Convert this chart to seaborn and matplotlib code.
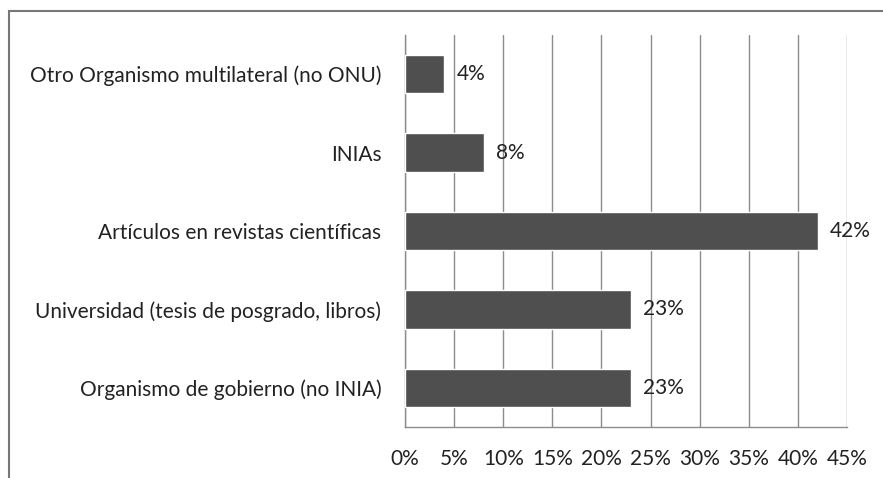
import numpy as np
import pandas as pd
import matplotlib.pyplot as plt
import seaborn as sns
from matplotlib.patches import Rectangle
from matplotlib.ticker import FixedLocator

categories = [
    "Otro Organismo multilateral (no ONU)",
    "INIAs",
    "Artículos en revistas científicas",
    "Universidad (tesis de posgrado, libros)",
    "Organismo de gobierno (no INIA)",
]
shares = [4, 8, 42, 23, 23]
x_ticks = [0, 5, 10, 15, 20, 25, 30, 35, 40, 45]

df = pd.DataFrame({"fuente": categories, "pct": shares})

sns.set_style("white")
plt.rcParams["font.family"] = ["Lato", "DejaVu Sans"]

fig = plt.figure(figsize=(8.83, 4.78), dpi=100)
ax = fig.add_axes([405 / 883, 1 - 427 / 478, 442 / 883, 392 / 478])

sns.barplot(data=df, y="fuente", x="pct", orient="h", color="#4f4f4f",
            width=0.49, saturation=1, ax=ax, zorder=3)

grid_c = "#8c8c8c"
txt_c = "#222222"
fs = 15
ax.set_xlim(0, 45)
ax.set_ylim(len(categories) - 0.5, -0.5)
ax.set_xticks(x_ticks)
ax.set_xticklabels([f"{t}%" for t in x_ticks])
ax.xaxis.grid(True, color=grid_c, linewidth=1)
ax.set_axisbelow(True)
ax.set_xlabel("")
ax.set_ylabel("")

for s in ["top", "right"]:
    ax.spines[s].set_visible(False)
for s in ["left", "bottom"]:
    ax.spines[s].set_color(grid_c)
    ax.spines[s].set_linewidth(1)

ax.tick_params(axis="x", direction="out", length=5, color=grid_c, labelsize=fs,
               labelcolor=txt_c, pad=11)
ax.tick_params(axis="y", which="major", length=0, labelsize=fs,
               labelcolor=txt_c, pad=17)
ax.yaxis.set_minor_locator(FixedLocator(np.arange(-0.5, len(categories), 1.0)))
ax.tick_params(axis="y", which="minor", direction="out", length=7, color=grid_c)

for i, v in enumerate(shares):
    ax.annotate(f"{v}%", xy=(v, i), xytext=(9, 0), textcoords="offset points",
                va="center", ha="left", fontsize=fs, color=txt_c, zorder=4)

fig.patches.append(Rectangle((9 / 883, -0.1), 1.2, 1 - 11.5 / 478 + 0.1,
                             transform=fig.transFigure, fill=False,
                             edgecolor="#777777", linewidth=1.5))

fig.savefig("out.png", dpi=100)
